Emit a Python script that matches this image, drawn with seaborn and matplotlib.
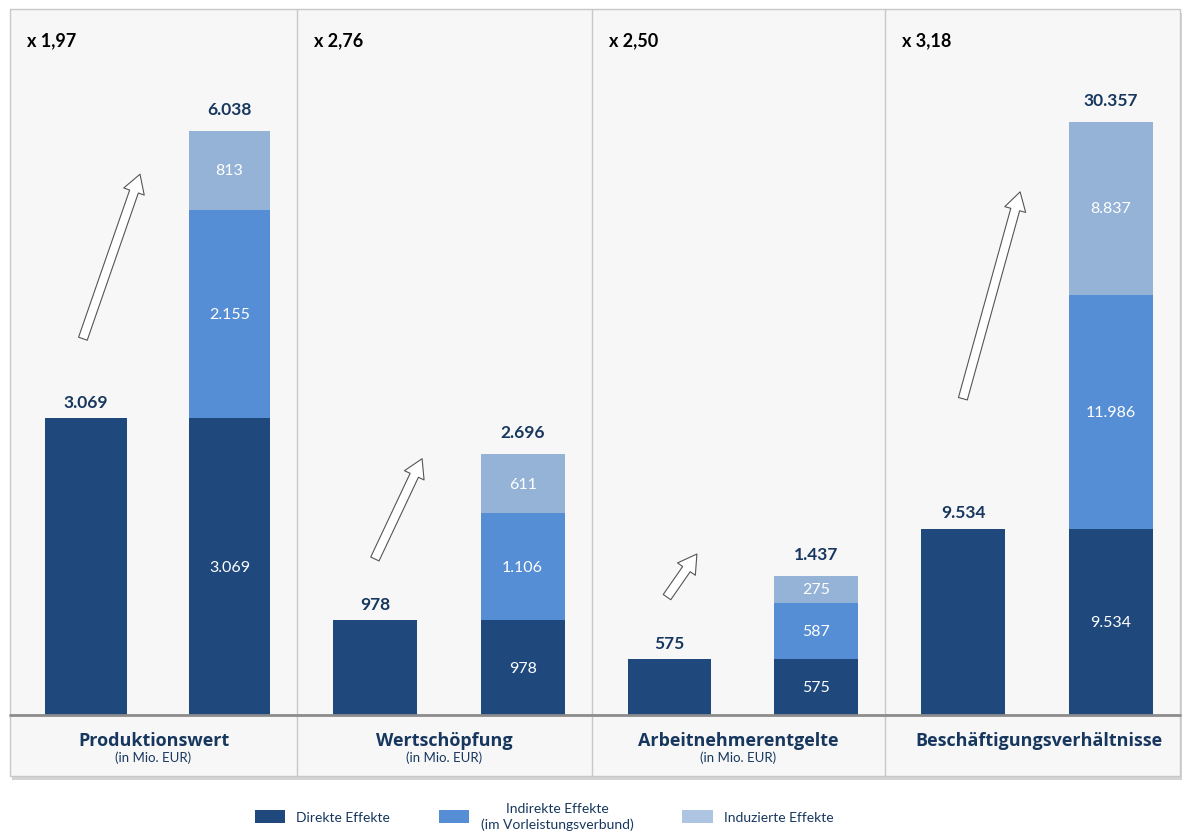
import seaborn as sns
import matplotlib.pyplot as plt
import matplotlib.patches as mpatches
from matplotlib.lines import Line2D
import pandas as pd

# Daten
kennzahlen = ['Produktionswert', 'Wertschöpfung', 'Arbeitnehmerentgelte', 'Beschäftigungsverhältnisse']
untertitel = ['(in Mio. EUR)', '(in Mio. EUR)', '(in Mio. EUR)', '']
multiplikator = ['x 1,97', 'x 2,76', 'x 2,50', 'x 3,18']
direkt = [3069, 978, 575, 9534]
indirekt = [2155, 1106, 587, 11986]
induziert = [813, 611, 275, 8837]
gesamt = [6038, 2696, 1437, 30357]
balken = ['Direkt', 'Gesamt']
effekte = ['Direkte Effekte', 'Indirekte Effekte\n(im Vorleistungsverbund)', 'Induzierte Effekte']

# Farben
c_direkt = '#1f497d'
c_indirekt = '#558ed5'
c_induziert = '#95b3d7'
navy = '#17375e'


def fmt(v):
    return f'{v:,}'.replace(',', '.')


sns.set_style('white')
plt.rcParams['font.family'] = ['Lato', 'DejaVu Sans']

W, H = 1188, 837
fig = plt.figure(figsize=(W / 100, H / 100), dpi=100)

# Layout in Pixeln
grenzen = [10, 297, 592, 885, 1180]
box_top, basis, box_bottom = 10, 716, 777
ymax = [7300, 7300, 7300, 36150]
pfeile = [((0.254, 0.533), (0.453, 0.766)),
          ((0.264, 0.221), (0.424, 0.363)),
          ((0.256, 0.167), (0.358, 0.228)),
          ((0.264, 0.448), (0.458, 0.741))]

# Rahmen mit Schatten
fig.patches.append(mpatches.Rectangle(((grenzen[0] + 2) / W, 1 - (box_bottom + 4) / H),
                                      (grenzen[-1] - grenzen[0]) / W, (box_bottom - box_top) / H,
                                      transform=fig.transFigure, facecolor='#d4d4d4',
                                      edgecolor='none', zorder=-2))
fig.patches.append(mpatches.Rectangle((grenzen[0] / W, 1 - box_bottom / H),
                                      (grenzen[-1] - grenzen[0]) / W, (box_bottom - box_top) / H,
                                      transform=fig.transFigure, facecolor='#f7f7f7',
                                      edgecolor='#c8c8c8', lw=1, zorder=-1))

for i in range(4):
    links, rechts = grenzen[i], grenzen[i + 1]
    ax = fig.add_axes([links / W, 1 - basis / H, (rechts - links) / W, (basis - box_top) / H])
    ax.set_facecolor('none')

    # gestapelte Balken durch Überlagerung
    schichten = [
        ([direkt[i], gesamt[i]], c_induziert),
        ([direkt[i], direkt[i] + indirekt[i]], c_indirekt),
        ([direkt[i], direkt[i]], c_direkt),
    ]
    for werte, farbe in schichten:
        df = pd.DataFrame({'Balken': balken, 'Wert': werte})
        sns.barplot(data=df, x='Balken', y='Wert', order=balken, color=farbe,
                    saturation=1, width=0.57, ax=ax, linewidth=0)

    # Summen über den Balken
    ax.bar_label(ax.containers[0], labels=[fmt(direkt[i]), ''], padding=6,
                 fontsize=12.5, fontweight='bold', color=navy)
    ax.bar_label(ax.containers[0], labels=['', fmt(gesamt[i])], padding=10,
                 fontsize=12.5, fontweight='bold', color=navy)

    # Segmentbeschriftungen
    unten = 0
    for wert in [direkt[i], indirekt[i], induziert[i]]:
        ax.text(1, unten + wert / 2, fmt(wert), ha='center', va='center',
                fontsize=11.5, color='white')
        unten += wert

    ax.text(0.059, 0.956, multiplikator[i], transform=ax.transAxes, ha='left', va='center',
            fontsize=13, fontweight='bold', color='black')

    pfeil = mpatches.FancyArrowPatch(pfeile[i][0], pfeile[i][1], transform=ax.transAxes,
                                     arrowstyle='simple,head_length=1.1,head_width=1.3,tail_width=0.55',
                                     mutation_scale=12, facecolor='white', edgecolor='#555555',
                                     lw=0.8, shrinkA=0, shrinkB=0)
    ax.add_patch(pfeil)

    ax.set_xlim(-0.53, 1.47)
    ax.set_ylim(0, ymax[i])
    ax.set_xlabel('')
    ax.set_ylabel('')
    ax.set_xticks([])
    ax.set_yticks([])
    for s in ax.spines.values():
        s.set_visible(False)

    mitte = (links + rechts) / 2 / W
    if i == 3:
        mitte += 6 / W
    fig.text(mitte, 1 - 741 / H, kennzahlen[i], ha='center', va='center',
             fontsize=13, fontweight='bold', color=navy, family=['Open Sans', 'DejaVu Sans'])
    if untertitel[i]:
        fig.text(mitte, 1 - 758 / H, untertitel[i], ha='center', va='center',
                 fontsize=9.5, color=navy)

# Trennlinien und Grundlinie
for x in grenzen[1:-1]:
    fig.add_artist(Line2D([x / W, x / W], [1 - box_top / H, 1 - box_bottom / H],
                          transform=fig.transFigure, color='#c8c8c8', lw=1))
fig.add_artist(Line2D([grenzen[0] / W, grenzen[-1] / W], [1 - basis / H, 1 - basis / H],
                      transform=fig.transFigure, color='#8c8c8c', lw=2))

# Legende
handles = [mpatches.Patch(facecolor=c, edgecolor='none')
           for c in [c_direkt, c_indirekt, '#adc5e3']]
leg = fig.legend(handles, effekte, loc='center', bbox_to_anchor=(544 / W, 1 - 817 / H),
                 ncol=3, frameon=False, fontsize=10, handlelength=2.2, handleheight=1.1,
                 columnspacing=3.5, labelcolor=navy)
for t in leg.get_texts():
    t.set_multialignment('center')
    t.set_linespacing(1.4)

fig.savefig('out.png', dpi=100)
